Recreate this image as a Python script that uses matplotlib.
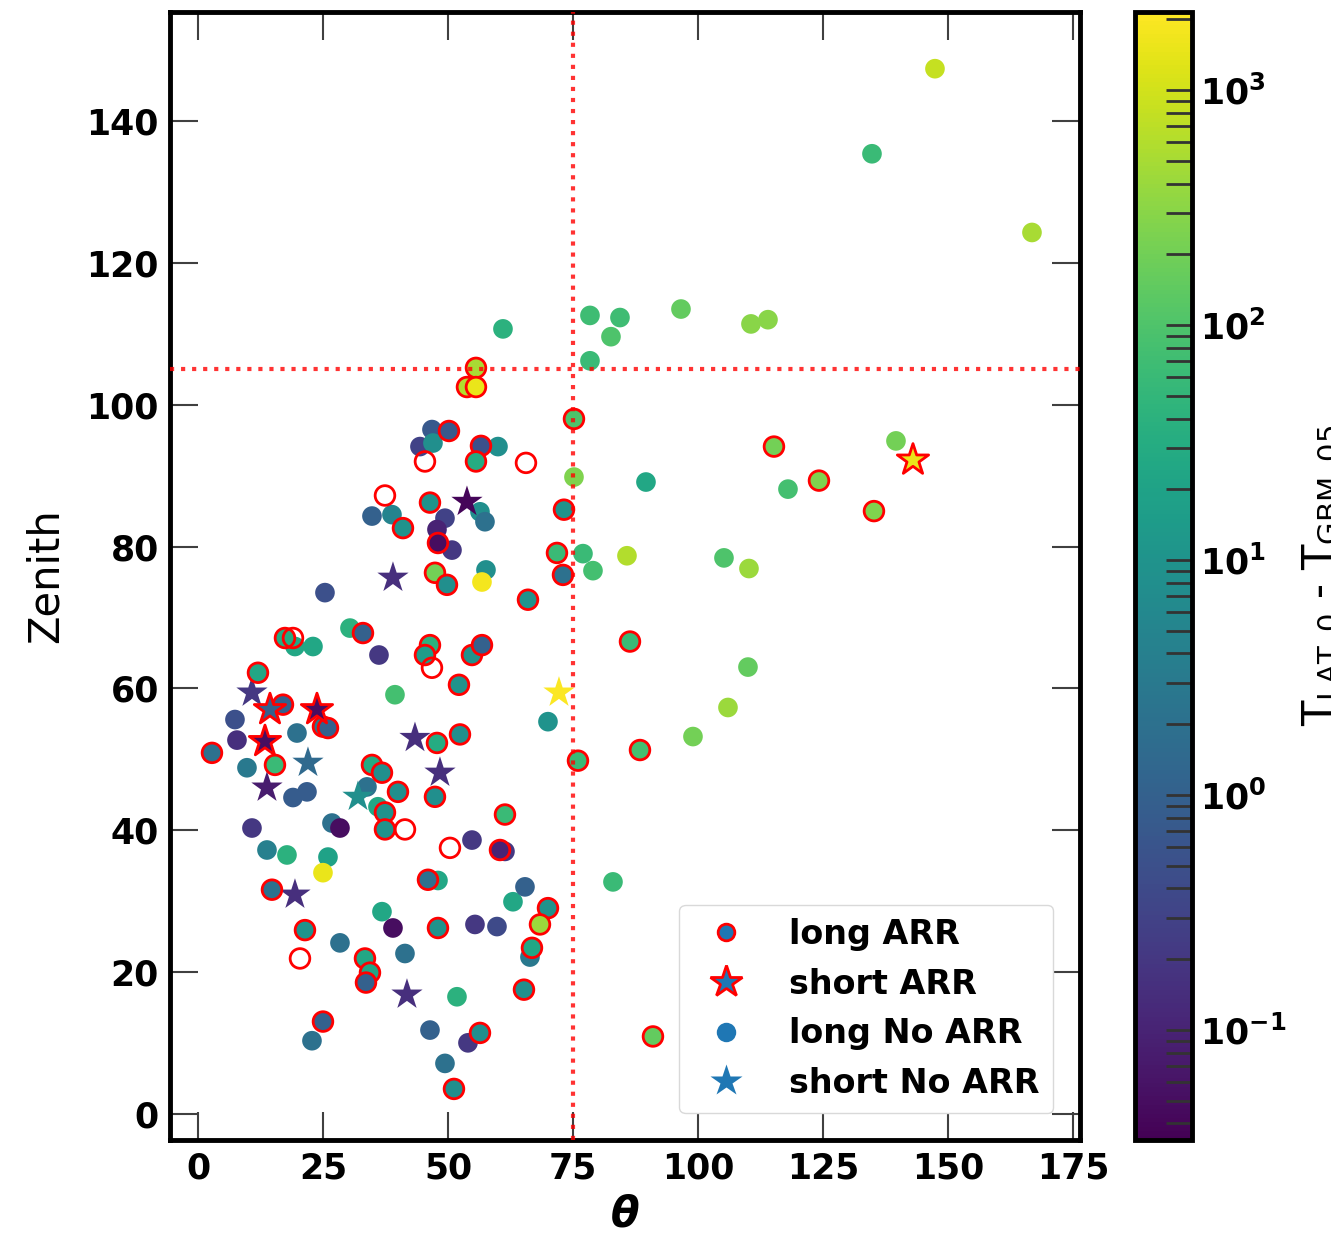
import matplotlib
matplotlib.use("Agg")
import matplotlib.pyplot as plt
import numpy as np
from matplotlib.colors import LogNorm
from matplotlib.lines import Line2D
from matplotlib.ticker import LogLocator, NullFormatter

plt.rcParams["font.family"] = ["DejaVu Sans"]

# long bursts with ARR (nan = no delay measured)
long_arr_theta = [75.2, 115.2, 124.2, 135.2, 73.2, 55.6, 53.8, 55.6, 50.2, 45.4,
                  56.6, 55.6, 65.6, 46.4, 41.0, 48.0, 71.8, 73.0, 47.4, 49.8,
                  66.0, 37.4, 17.4, 19.0, 33.0, 46.4, 45.4, 54.8, 56.8, 46.8,
                  12.0, 17.0, 25.0, 26.0, 2.8, 15.4, 47.8, 52.4, 34.8, 36.8,
                  40.0, 47.4, 37.4, 37.4, 41.4, 50.4, 61.4, 60.4, 46.0, 14.8,
                  21.4, 48.0, 20.4, 33.4, 34.4, 33.6, 51.2, 56.4, 70.0, 68.4,
                  66.8, 65.2, 25.0, 91.0, 52.2, 86.4, 88.4, 76.0]
long_arr_zenith = [98.0, 94.1, 89.3, 85.0, 85.2, 105.2, 102.5, 102.5, 96.3, 92.0,
                   94.2, 92.0, 91.8, 86.2, 82.6, 80.5, 79.1, 76.0, 76.3, 74.6,
                   72.5, 87.2, 67.1, 67.1, 67.8, 66.1, 64.7, 64.7, 66.1, 62.9,
                   62.2, 57.7, 54.6, 54.4, 50.9, 49.2, 52.3, 53.5, 49.2, 48.1,
                   45.4, 44.7, 42.5, 40.1, 40.1, 37.5, 42.2, 37.2, 33.0, 31.6,
                   25.9, 26.2, 21.9, 21.9, 19.9, 18.5, 3.5, 11.4, 29.0, 26.7,
                   23.4, 17.5, 13.0, 10.9, 60.5, 66.6, 51.3, 49.8]
long_arr_dt = [100, 200, 250, 250, 10, 500, 600, 1500, 0.7, np.nan,
               0.5, 30, np.nan, 10, 10, 0.05, 60, 2, 200, 8,
               10, np.nan, 30, np.nan, 1, 40, 15, 10, 1, np.nan,
               25, 1, 3, 1, 2, 60, 30, 8, 30, 8,
               8, 8, 10, 10, np.nan, np.nan, 60, 0.1, 2, 2,
               10, 10, np.nan, 25, 25, 1, 8, 8, 10, 400,
               25, 8, 1, 150, 10, 60, 80, 60]

# short bursts with ARR
short_arr_theta = [143.0, 14.4, 23.8, 13.4]
short_arr_zenith = [92.2, 57.0, 57.0, 52.5]
short_arr_dt = [1500, 1, 0.05, 0.05]

# long bursts without ARR
long_no_theta = [147.4, 134.8, 166.8, 61.0, 78.4, 84.4, 82.6, 78.4, 96.6, 110.6,
                 114.0, 139.6, 118.0, 75.2, 89.6, 46.8, 44.4, 47.0, 60.0, 56.4,
                 57.4, 49.4, 47.8, 50.8, 77.0, 79.0, 85.8, 57.6, 56.8, 34.8,
                 38.8, 25.4, 19.4, 23.0, 30.4, 36.2, 39.4, 7.4, 7.8, 19.8,
                 9.8, 19.0, 21.8, 33.8, 36.0, 26.8, 28.4, 10.8, 13.8, 17.8,
                 26.0, 25.0, 54.8, 61.4, 48.0, 36.8, 39.0, 55.4, 59.8, 28.4,
                 41.4, 51.8, 46.4, 49.4, 54.0, 63.0, 65.4, 66.4, 22.8, 83.0,
                 105.2, 110.2, 110.0, 106.0, 99.0, 70.0]
long_no_zenith = [147.4, 135.4, 124.3, 110.7, 112.6, 112.3, 109.6, 106.2, 113.5, 111.4,
                  112.0, 94.9, 88.1, 89.8, 89.1, 96.5, 94.1, 94.6, 94.1, 84.9,
                  83.5, 84.0, 82.4, 79.5, 79.0, 76.6, 78.7, 76.7, 75.0, 84.3,
                  84.5, 73.5, 65.9, 65.9, 68.5, 64.7, 59.1, 55.6, 52.7, 53.7,
                  48.8, 44.6, 45.4, 46.1, 43.3, 41.0, 40.3, 40.3, 37.2, 36.5,
                  36.2, 34.0, 38.6, 37.0, 32.9, 28.5, 26.2, 26.7, 26.4, 24.1,
                  22.6, 16.5, 11.8, 7.1, 10.0, 29.9, 32.0, 22.1, 10.3, 32.7,
                  78.4, 76.9, 63.0, 57.3, 53.2, 55.3]
long_no_dt = [800, 60, 500, 40, 70, 70, 100, 60, 150, 300,
              300, 200, 80, 250, 25, 0.7, 0.3, 8, 8, 8,
              2, 0.3, 0.1, 0.2, 60, 80, 600, 8, 1800, 1,
              5, 0.5, 25, 25, 40, 0.2, 80, 0.5, 0.15, 2,
              3, 0.8, 0.8, 2, 25, 2, 0.05, 0.2, 4, 40,
              20, 1500, 0.2, 0.2, 25, 25, 0.05, 0.2, 0.4, 2,
              2, 40, 1, 2, 0.2, 25, 1, 3, 2, 60,
              100, 400, 150, 400, 200, 10]

# short bursts without ARR
short_no_theta = [53.8, 39.0, 10.8, 22.0, 13.8, 43.4, 48.4, 32.0, 19.4, 41.8, 72.2]
short_no_zenith = [86.3, 75.6, 59.4, 49.5, 46.0, 53.0, 48.1, 44.7, 30.9, 16.8, 59.4]
short_no_dt = [0.04, 0.15, 0.2, 1.5, 0.08, 0.15, 0.15, 8, 0.15, 0.15, 2000]

theta_cut = 75
zenith_cut = 105

fig = plt.figure(figsize=(13.31, 12.34), dpi=100)
ax = fig.add_axes([0.1277, 0.0762, 0.6837, 0.9141])
cax = fig.add_axes([0.8527, 0.0762, 0.0429, 0.9141])

norm = LogNorm(vmin=0.034, vmax=2150)
cmap = plt.get_cmap("viridis")

ax.scatter(long_no_theta, long_no_zenith, c=long_no_dt, cmap=cmap, norm=norm,
           s=200, edgecolors="none", zorder=2)
ax.scatter(short_no_theta, short_no_zenith, c=short_no_dt, cmap=cmap, norm=norm,
           marker="*", s=560, edgecolors="none", zorder=2)
ax.scatter(long_arr_theta, long_arr_zenith, c=long_arr_dt, cmap=cmap, norm=norm,
           s=200, edgecolors="red", linewidths=2, plotnonfinite=True, zorder=3)
ax.scatter(short_arr_theta, short_arr_zenith, c=short_arr_dt, cmap=cmap, norm=norm,
           marker="*", s=560, edgecolors="red", linewidths=2, zorder=3)

ax.axvline(theta_cut, color="red", ls=":", lw=3, alpha=0.8, zorder=4)
ax.axhline(zenith_cut, color="red", ls=":", lw=3, alpha=0.8, zorder=4)

ax.set_xlim(-5.6, 176.4)
ax.set_ylim(-3.7, 155.4)
ax.set_xticks(np.arange(0, 176, 25))
ax.set_yticks(np.arange(0, 141, 20))
ax.tick_params(direction="in", length=20, width=1.5, pad=8, labelsize=25,
               top=True, right=True, color="0.25")
for lab in ax.get_xticklabels() + ax.get_yticklabels():
    lab.set_fontweight("bold")
for sp in ax.spines.values():
    sp.set_linewidth(3.5)

ax.set_xlabel("\u03b8", fontsize=30, fontweight="bold", style="italic", labelpad=6)
ax.set_ylabel("Zenith", fontsize=30, labelpad=14)

handles = [
    Line2D([], [], ls="none", marker="o", ms=12, mfc="#1f77b4", mec="red", mew=2),
    Line2D([], [], ls="none", marker="*", ms=24, mfc="#1f77b4", mec="red", mew=2),
    Line2D([], [], ls="none", marker="o", ms=14, mfc="#1f77b4", mec="none"),
    Line2D([], [], ls="none", marker="*", ms=24, mfc="#1f77b4", mec="none"),
]
labels = ["long ARR", "short ARR", "long No ARR", "short No ARR"]
leg = ax.legend(handles, labels, loc="lower right", prop={"size": 24, "weight": "bold"},
                handletextpad=0.9, labelspacing=0.5, borderaxespad=0.8,
                framealpha=1, edgecolor="0.85", fancybox=True)

cb = fig.colorbar(plt.cm.ScalarMappable(norm=norm, cmap=cmap), cax=cax)
cb.outline.set_linewidth(3.5)
cb.set_ticks([0.1, 1, 10, 100, 1000])
cb.set_ticklabels([r"$\mathbf{10^{-1}}$", r"$\mathbf{10^{0}}$", r"$\mathbf{10^{1}}$",
                   r"$\mathbf{10^{2}}$", r"$\mathbf{10^{3}}$"])
cax.yaxis.set_minor_locator(LogLocator(subs=np.arange(2, 10)))
cax.yaxis.set_minor_formatter(NullFormatter())
cax.tick_params(which="both", direction="in", length=19, width=2, labelsize=25,
                color="0.2", pad=6)
cb.set_label(r"T$_{\rm LAT,0}$ - T$_{\rm GBM,05}$", fontsize=30, labelpad=10)

fig.savefig("out.png", dpi=100)
